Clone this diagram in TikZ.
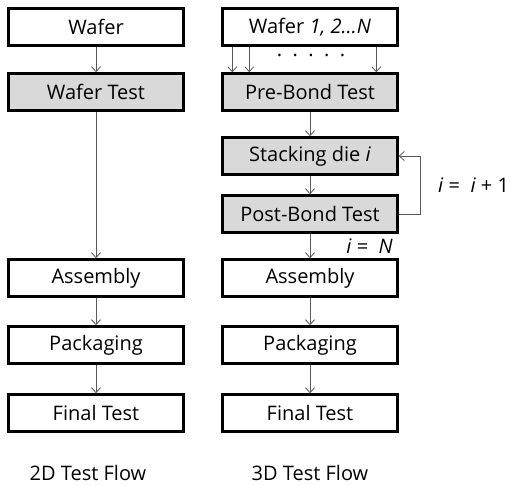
\documentclass[tikz,border=0pt]{standalone}
\usepackage{fontspec}
\setmainfont{Open Sans}
\usetikzlibrary{calc, arrows.meta}

\begin{document}
\begin{tikzpicture}[x=1pt, y=-1pt,
    stepbox/.style={draw=black, line width=2.4pt, minimum width=175pt, minimum height=37pt,
        inner sep=0pt, font=\fontsize{20}{23}\selectfont},
    testbox/.style={stepbox, fill=black!15},
    flow/.style={-{Straight Barb[length=5pt, width=9pt]}, draw=black!65, line width=0.8pt},
    lbl/.style={font=\fontsize{20}{23}\selectfont, inner sep=0pt}]
    \useasboundingbox (0,0) rectangle (519,486);
    % 2D flow
    \node[stepbox] (wafer2) at (96,27) {Wafer};
    \node[testbox] (wtest2) at (96,92) {Wafer Test};
    \node[stepbox] (assy2) at (96,278) {Assembly};
    \node[stepbox] (pack2) at (96,345) {Packaging};
    \node[stepbox] (final2) at (96,413) {Final Test};
    \node[lbl] (title2) at (88,473) {2D Test Flow};
    \draw[flow] (wafer2) -- (wtest2);
    \draw[flow] (wtest2) -- (assy2);
    \draw[flow] (assy2) -- (pack2);
    \draw[flow] (pack2) -- (final2);
    % 3D flow
    \node[stepbox] (wafer3) at (310,27) {Wafer \textit{1, 2\dots N}};
    \node[testbox] (prebond) at (310,92) {Pre-Bond Test};
    \node[testbox] (stack) at (310,156) {Stacking die \textit{i}};
    \node[testbox] (postbond) at (310,214) {Post-Bond Test};
    \node[stepbox] (assy3) at (310,278) {Assembly};
    \node[stepbox] (pack3) at (310,345) {Packaging};
    \node[stepbox] (final3) at (310,413) {Final Test};
    \node[lbl] (title3) at (310,473) {3D Test Flow};
    \node[lbl] (dots) at (311,55) {.\ \ .\ \ .\ \ .\ \ .};
    \draw[flow] ([xshift=11pt]wafer3.south west) -- ([xshift=11pt]prebond.north west);
    \draw[flow] ([xshift=28pt]wafer3.south west) -- ([xshift=28pt]prebond.north west);
    \draw[flow] ([xshift=155pt]wafer3.south west) -- ([xshift=155pt]prebond.north west);
    \draw[flow] (prebond) -- (stack);
    \draw[flow] (stack) -- (postbond);
    \draw[flow] (postbond) -- (assy3);
    \draw[flow] (assy3) -- (pack3);
    \draw[flow] (pack3) -- (final3);
    \coordinate (loop) at (420,185);
    \draw[flow] (postbond.east) -- (postbond.east -| loop) -- (stack.east -| loop) -- (stack.east);
    \node[lbl, anchor=west] (incr) at (438,185) {\textit{i} = \ \textit{i} + 1};
    \node[lbl, anchor=east] (last) at (393,246) {\textit{i} = \ \textit{N}};
\end{tikzpicture}
\end{document}
